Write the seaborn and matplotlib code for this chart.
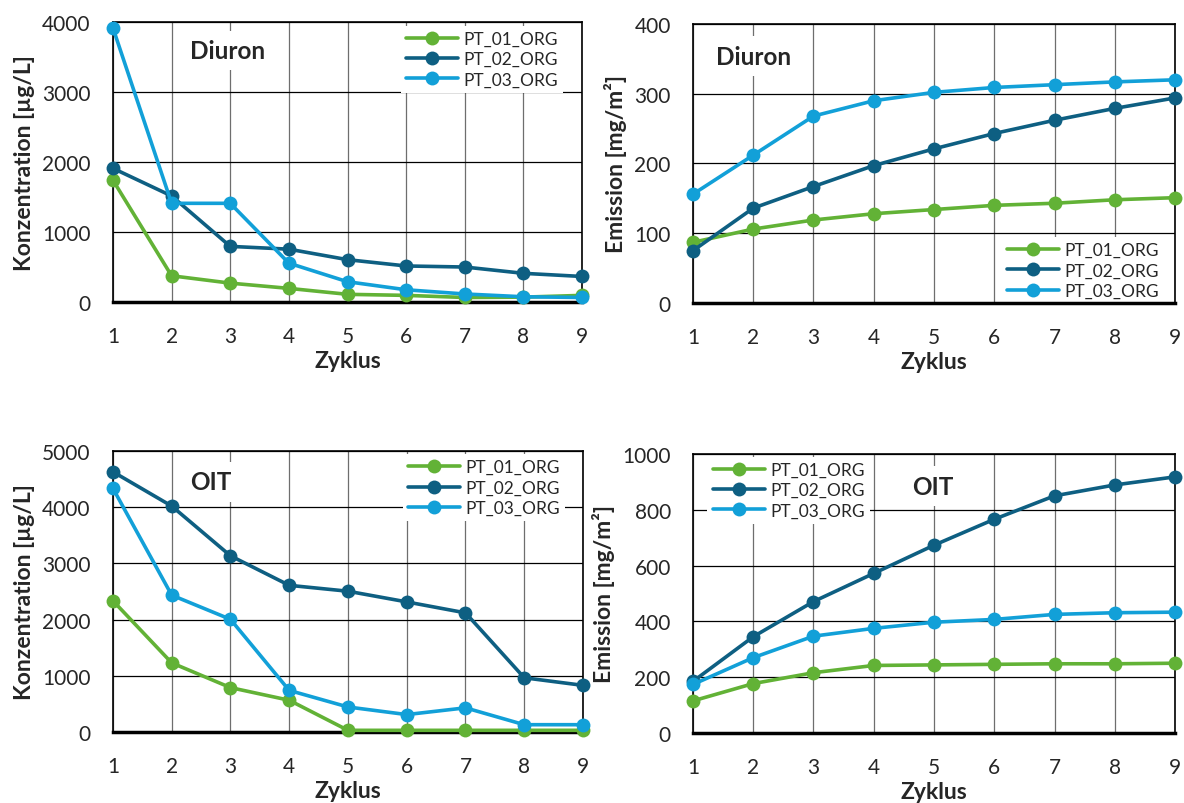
import pandas as pd
import matplotlib.pyplot as plt
import seaborn as sns

# Zyklen 1..9
zyklus = [1, 2, 3, 4, 5, 6, 7, 8, 9]
proben = ["PT_01_ORG", "PT_02_ORG", "PT_03_ORG"]

# Diuron - Konzentration [µg/L]
diuron_konz_01 = [1740, 375, 270, 195, 110, 95, 65, 70, 95]
diuron_konz_02 = [1910, 1515, 795, 755, 605, 515, 500, 410, 365]
diuron_konz_03 = [3915, 1410, 1410, 555, 290, 175, 115, 75, 65]

# Diuron - Emission [mg/m²]
diuron_em_01 = [87, 106, 119, 128, 134, 140, 143, 148, 151]
diuron_em_02 = [75, 136, 167, 197, 221, 243, 262, 279, 294]
diuron_em_03 = [156, 212, 268, 290, 302, 309, 313, 317, 320]

# OIT - Konzentration [µg/L]
oit_konz_01 = [2335, 1230, 790, 565, 30, 30, 30, 30, 30]
oit_konz_02 = [4630, 4020, 3135, 2610, 2505, 2315, 2120, 965, 830]
oit_konz_03 = [4335, 2435, 2005, 740, 445, 310, 430, 130, 130]

# OIT - Emission [mg/m²]
oit_em_01 = [115, 177, 216, 242, 244, 246, 248, 248, 250]
oit_em_02 = [185, 345, 471, 572, 673, 766, 850, 889, 918]
oit_em_03 = [174, 270, 347, 375, 397, 407, 425, 431, 433]

farben = {"PT_01_ORG": "#62B236", "PT_02_ORG": "#0E5F82", "PT_03_ORG": "#12A0D8"}


def long_format(reihen):
    teile = []
    for name, werte in zip(proben, reihen):
        teile.append(pd.DataFrame({"Zyklus": zyklus, "Wert": werte, "Probe": name}))
    return pd.concat(teile, ignore_index=True)


sns.set_theme(style="white")
plt.rcParams["font.family"] = ["Lato", "DejaVu Sans"]

fig = plt.figure(figsize=(11.84, 8.04), dpi=100)

panels = [
    # position, daten, ylabel, ymax, ystep, titel, titelpos, legend loc, legend anchor
    ([0.0954, 0.6231, 0.3962, 0.3483], [diuron_konz_01, diuron_konz_02, diuron_konz_03],
     "Konzentration [µg/L]", 4000, 1000, "Diuron", (2.95, 3590), "upper right", (0.978, 1.018)),
    ([0.5853, 0.6219, 0.4071, 0.3470], [diuron_em_01, diuron_em_02, diuron_em_03],
     "Emission [mg/m²]", 400, 100, "Diuron", (2.0, 354), "lower right", (0.995, -0.035)),
    ([0.0954, 0.0883, 0.3970, 0.3495], [oit_konz_01, oit_konz_02, oit_konz_03],
     "Konzentration [µg/L]", 5000, 1000, "OIT", (2.67, 4450), "upper right", (0.98, 1.02)),
    ([0.5853, 0.0871, 0.4071, 0.3470], [oit_em_01, oit_em_02, oit_em_03],
     "Emission [mg/m²]", 1000, 200, "OIT", (4.98, 885), "upper left", (0.012, 1.022)),
]

for pos, reihen, ylabel, ymax, ystep, titel, tpos, lloc, lanchor in panels:
    ax = fig.add_axes(pos)
    df = long_format(reihen)
    sns.lineplot(data=df, x="Zyklus", y="Wert", hue="Probe", palette=farben,
                 marker="o", markersize=10, markeredgewidth=0, linewidth=2.6,
                 ax=ax, clip_on=False, zorder=5)

    ax.set_xlim(1, 9)
    ax.set_ylim(0, ymax)
    ax.set_xticks(zyklus)
    ax.set_yticks(range(0, ymax + 1, ystep))
    ax.grid(axis="y", color="black", linewidth=0.9)
    ax.grid(axis="x", color="#6e6e6e", linewidth=0.9)
    ax.set_axisbelow(True)
    for s in ax.spines.values():
        s.set_color("black")
        s.set_linewidth(1.2)
        s.set_zorder(4.5)
    ax.spines["bottom"].set_linewidth(2.5)
    ax.tick_params(axis="x", which="major", direction="out", length=6, width=1.2,
                   color="black", labelsize=15, pad=11)
    ax.tick_params(axis="y", length=0, labelsize=15, pad=16)
    ax.set_xlabel("Zyklus", fontsize=16.5, fontweight="bold", labelpad=3)
    ax.set_ylabel(ylabel, fontsize=16.5, fontweight="bold", labelpad=5)

    ax.text(tpos[0], tpos[1], titel, fontsize=17.5, fontweight="bold", ha="center", va="center",
            bbox=dict(facecolor="white", edgecolor="none", pad=6), zorder=4)

    handles, labels = ax.get_legend_handles_labels()
    leg = ax.legend(handles, labels, loc=lloc, bbox_to_anchor=lanchor, fontsize=12.5,
                    frameon=True, facecolor="white", edgecolor="none", framealpha=1,
                    handlelength=3.0, handletextpad=0.3, labelspacing=0.25,
                    borderpad=0.3, fancybox=False)
    leg.set_zorder(4.2)

fig.savefig("out.png", dpi=100)
